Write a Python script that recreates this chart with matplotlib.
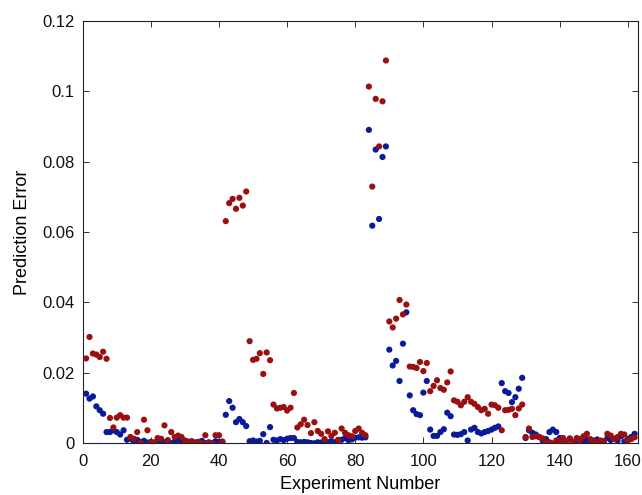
import numpy as np
import matplotlib
matplotlib.use('Agg')
import matplotlib.pyplot as plt

### Datos ###
# Error de prediccion por experimento (serie roja)
err_rojo = [0.0241, 0.0302, 0.0255, 0.0252, 0.0245, 0.0260, 0.0240, 0.0072, 0.0045, 0.0073,
            0.0080, 0.0073, 0.0073, 0.0018, 0.0013, 0.0032, 0.0001, 0.0067, 0.0037, 0.0002,
            0.0003, 0.0015, 0.0013, 0.0051, 0.0009, 0.0032, 0.0018, 0.0022, 0.0018, 0.0004,
            0.0005, 0.0004, 0.0002, 0.0004, 0.0000, 0.0023, 0.0001, 0.0000, 0.0023, 0.0023,
            0.0004, 0.0631, 0.0682, 0.0694, 0.0666, 0.0697, 0.0675, 0.0715, 0.0290, 0.0237,
            0.0240, 0.0256, 0.0197, 0.0258, 0.0236, 0.0110, 0.0099, 0.0101, 0.0103, 0.0093,
            0.0101, 0.0143, 0.0045, 0.0054, 0.0067, 0.0052, 0.0029, 0.0060, 0.0035, 0.0027,
            0.0012, 0.0034, 0.0021, 0.0030, 0.0010, 0.0042, 0.0030, 0.0023, 0.0020, 0.0035,
            0.0042, 0.0030, 0.0023, 0.1013, 0.0729, 0.0978, 0.0843, 0.0971, 0.1087, 0.0346,
            0.0329, 0.0354, 0.0407, 0.0366, 0.0394, 0.0218, 0.0217, 0.0214, 0.0231, 0.0205,
            0.0228, 0.0148, 0.0163, 0.0179, 0.0157, 0.0152, 0.0173, 0.0204, 0.0122, 0.0118,
            0.0108, 0.0118, 0.0131, 0.0118, 0.0112, 0.0103, 0.0094, 0.0098, 0.0084, 0.0110,
            0.0108, 0.0101, 0.0037, 0.0094, 0.0095, 0.0098, 0.0080, 0.0099, 0.0110, 0.0018,
            0.0042, 0.0018, 0.0020, 0.0018, 0.0014, 0.0001, 0.0003, 0.0000, 0.0008, 0.0009,
            0.0015, 0.0006, 0.0012, 0.0004, 0.0015, 0.0010, 0.0020, 0.0027, 0.0012, 0.0006,
            0.0003, 0.0008, 0.0005, 0.0027, 0.0022, 0.0012, 0.0018, 0.0027, 0.0025, 0.0008,
            0.0012, 0.0017]

# Error de prediccion por experimento (serie azul)
err_azul = [0.0141, 0.0127, 0.0133, 0.0105, 0.0094, 0.0084, 0.0032, 0.0032, 0.0037, 0.0032,
            0.0025, 0.0037, 0.0010, 0.0013, 0.0004, 0.0010, 0.0004, 0.0007, 0.0002, 0.0004,
            0.0000, 0.0003, 0.0007, 0.0003, 0.0005, 0.0000, 0.0005, 0.0010, 0.0005, 0.0008,
            0.0003, 0.0006, 0.0002, 0.0004, 0.0007, 0.0000, 0.0003, 0.0001, 0.0006, 0.0004,
            0.0005, 0.0081, 0.0120, 0.0101, 0.0060, 0.0069, 0.0060, 0.0049, 0.0006, 0.0008,
            0.0005, 0.0007, 0.0026, 0.0001, 0.0046, 0.0010, 0.0008, 0.0012, 0.0009, 0.0013,
            0.0015, 0.0015, 0.0004, 0.0003, 0.0004, 0.0003, 0.0001, 0.0000, 0.0003, 0.0002,
            0.0000, 0.0003, 0.0006, 0.0003, 0.0009, 0.0010, 0.0015, 0.0009, 0.0011, 0.0016,
            0.0017, 0.0016, 0.0017, 0.0890, 0.0618, 0.0834, 0.0637, 0.0813, 0.0843, 0.0266,
            0.0221, 0.0234, 0.0177, 0.0283, 0.0372, 0.0136, 0.0094, 0.0083, 0.0080, 0.0144,
            0.0177, 0.0039, 0.0021, 0.0021, 0.0032, 0.0040, 0.0087, 0.0077, 0.0025, 0.0024,
            0.0026, 0.0032, 0.0008, 0.0039, 0.0044, 0.0032, 0.0028, 0.0032, 0.0035, 0.0039,
            0.0044, 0.0048, 0.0171, 0.0148, 0.0143, 0.0117, 0.0131, 0.0155, 0.0186, 0.0015,
            0.0037, 0.0030, 0.0025, 0.0018, 0.0008, 0.0012, 0.0032, 0.0039, 0.0032, 0.0015,
            0.0010, 0.0006, 0.0014, 0.0003, 0.0008, 0.0012, 0.0005, 0.0010, 0.0002, 0.0008,
            0.0011, 0.0004, 0.0006, 0.0015, 0.0009, 0.0013, 0.0008, 0.0020, 0.0005, 0.0012,
            0.0018, 0.0027]

experimentos = np.arange(1, len(err_rojo) + 1)

xticks = [0, 20, 40, 60, 80, 100, 120, 140, 160]
yticks = [0, 0.02, 0.04, 0.06, 0.08, 0.1, 0.12]
ytick_labels = ['0', '0.02', '0.04', '0.06', '0.08', '0.1', '0.12']

### Grafico ###
plt.rcParams['font.family'] = ['Liberation Sans', 'DejaVu Sans']

fig = plt.figure(figsize=(6.42, 4.95), dpi=100)
ax = fig.add_axes([0.1288, 0.1044, 0.8650, 0.8538])

ax.scatter(experimentos, err_azul, s=20, color='#0b1a9a', edgecolors='none', zorder=2)
ax.scatter(experimentos, err_rojo, s=20, color='#9a1010', edgecolors='none', zorder=3)

ax.set_xlim(0, 163)
ax.set_ylim(0, 0.12)
ax.set_xticks(xticks)
ax.set_yticks(yticks)
ax.set_yticklabels(ytick_labels)
ax.tick_params(direction='in', length=4, width=0.6, labelsize=12, top=True, right=True,
               colors='#111111')
ax.tick_params(axis='x', pad=8)
ax.tick_params(axis='y', pad=6)
for sp in ax.spines.values():
    sp.set_linewidth(0.8)
    sp.set_color('#222222')

ax.set_xlabel('Experiment Number', fontsize=13, labelpad=5)
ax.set_ylabel('Prediction Error', fontsize=13, labelpad=8)

fig.savefig('out.png', dpi=100)
